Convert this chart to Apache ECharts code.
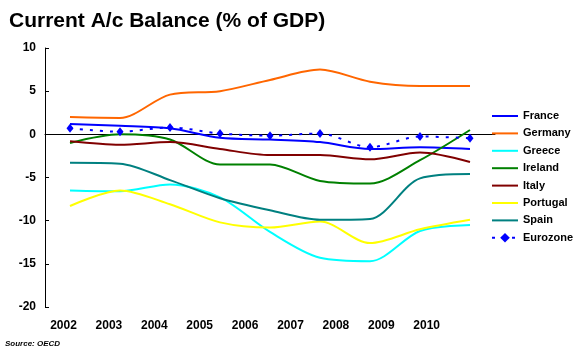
<!DOCTYPE html>
<html>
<head>
<meta charset="utf-8">
<script src="https://cdn.jsdelivr.net/npm/echarts@6/dist/echarts.min.js"></script>
<style>html,body{margin:0;padding:0;background:#fff;}#c{width:576px;height:356px;}</style>
</head>
<body>
<div id="c"></div>
<script>
const years = ['2002','2003','2004','2005','2006','2007','2008','2009','2010'];
const france   = [1.2, 1.0, 0.7, -0.4, -0.6, -0.9, -1.7, -1.5, -1.7];
const germany  = [2.0, 1.9, 4.6, 5.0, 6.3, 7.5, 6.1, 5.6, 5.6];
const greece   = [-6.5, -6.6, -5.8, -7.3, -11.3, -14.3, -14.7, -11.2, -10.5];
const ireland  = [-1.0, 0.0, -0.6, -3.5, -3.5, -5.4, -5.7, -3.0, 0.5];
const italy    = [-0.8, -1.2, -0.9, -1.7, -2.4, -2.4, -2.9, -2.1, -3.2];
const portugal = [-8.3, -6.5, -8.1, -10.2, -10.8, -10.1, -12.6, -11.0, -9.9];
const spain    = [-3.3, -3.4, -5.3, -7.4, -8.8, -9.9, -9.8, -5.1, -4.6];
const eurozone = [0.7, 0.3, 0.8, 0.1, -0.15, 0.1, -1.5, -0.25, -0.45];
const yTicks = {min: -20, max: 10, step: 5};

const chart = echarts.init(document.getElementById('c'), null, {renderer: 'canvas'});
const SMOOTH = 0.3;
function solid(name, data, color) {
  return {name, type: 'line', data, smooth: SMOOTH, symbol: 'none', showSymbol: false,
    lineStyle: {color, width: 2}, itemStyle: {color}, xAxisIndex: 0, yAxisIndex: 0, z: 3};
}
const font = 'Liberation Sans, Arial, sans-serif';
const legendNames = ['France','Germany','Greece','Ireland','Italy','Portugal','Spain'];
chart.setOption({
  animation: false,
  backgroundColor: '#fff',
  title: {text: 'Current A/c Balance (% of GDP)', left: 4, top: 6,
    textStyle: {fontFamily: font, fontWeight: 'bold', fontSize: 21, color: '#000'}},
  graphic: [{type: 'text', left: 5, top: 340,
    style: {text: 'Source: OECD', font: 'italic bold 8px Liberation Sans, Arial, sans-serif', fill: '#000'}}],
  legend: {orient: 'vertical', left: 486, top: 105, itemWidth: 26, itemHeight: 12, itemGap: 5.4,
    textStyle: {fontFamily: font, fontWeight: 'bold', fontSize: 11, color: '#000', lineHeight: 12},
    data: legendNames.map(n => ({name: n, itemStyle: {opacity: 0}})).concat([{name: 'Eurozone'}])},
  grid: [
    {left: 45, right: 81, top: 48, bottom: 49},
    {left: 40.8, width: 408.6, top: 48, bottom: 49}
  ],
  xAxis: [
    {type: 'category', data: years, gridIndex: 0, boundaryGap: true,
      axisLine: {onZero: true, lineStyle: {color: '#000', width: 1}},
      axisTick: {inside: true, length: 3, lineStyle: {color: '#000'}},
      axisLabel: {show: false}, splitLine: {show: false}},
    {type: 'category', data: years, gridIndex: 1, boundaryGap: true,
      axisLine: {show: false}, axisTick: {show: false}, splitLine: {show: false},
      axisLabel: {margin: 13, fontFamily: font, fontWeight: 'bold', fontSize: 12, color: '#000'}}
  ],
  yAxis: [
    {type: 'value', gridIndex: 0, min: yTicks.min, max: yTicks.max, interval: yTicks.step,
      axisLine: {show: true, lineStyle: {color: '#000', width: 1}},
      axisTick: {show: true, inside: true, length: 4, lineStyle: {color: '#000'}},
      axisLabel: {margin: 9, fontFamily: font, fontWeight: 'bold', fontSize: 12, color: '#000'},
      splitLine: {show: false}},
    {type: 'value', gridIndex: 1, min: yTicks.min, max: yTicks.max, show: false}
  ],
  series: [
    solid('France', france, '#0000FF'),
    solid('Germany', germany, '#FF6600'),
    solid('Greece', greece, '#00FFFF'),
    solid('Ireland', ireland, '#008000'),
    solid('Italy', italy, '#800000'),
    solid('Portugal', portugal, '#FFFF00'),
    solid('Spain', spain, '#008080'),
    {name: 'Eurozone', type: 'line', data: eurozone, smooth: SMOOTH, symbol: 'diamond', symbolSize: [7, 9],
      showSymbol: true, lineStyle: {color: '#0000FF', width: 2, type: [3, 7]},
      itemStyle: {color: '#0000FF'}, xAxisIndex: 0, yAxisIndex: 0, z: 4}
  ]
});
</script>
</body>
</html>
